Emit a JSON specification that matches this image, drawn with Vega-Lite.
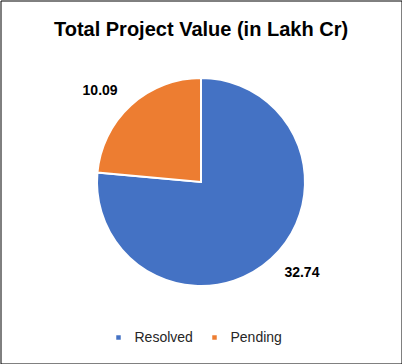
{
  "$schema": "https://vega.github.io/schema/vega-lite/v6.json",
  "width": 401,
  "height": 363,
  "padding": 0.5,
  "autosize": {"type": "none"},
  "background": "white",
  "view": {"stroke": "#000000", "strokeWidth": 1},
  "data": {"values": [
    {"status": "Resolved", "value": 32.74, "idx": 1},
    {"status": "Pending", "value": 10.09, "idx": 2}
  ]},
  "title": {
    "text": "Total Project Value (in Lakh Cr)",
    "font": "Liberation Sans",
    "fontSize": 20,
    "fontWeight": "bold",
    "color": "#000000",
    "anchor": "middle",
    "offset": -39
  },
  "encoding": {
    "theta": {"field": "value", "type": "quantitative", "stack": true},
    "order": {"field": "idx", "type": "quantitative"},
    "color": {
      "field": "status",
      "type": "nominal",
      "scale": {"domain": ["Resolved", "Pending"], "range": ["#4472C4", "#ED7D31"]},
      "legend": {
        "title": null,
        "orient": "none",
        "legendX": 111,
        "legendY": 330,
        "direction": "horizontal",
        "symbolType": "square",
        "symbolSize": 20,
        "labelFont": "Liberation Sans",
        "labelFontSize": 14,
        "labelColor": "#262626",
        "labelOffset": 9,
        "columnPadding": 14,
        "symbolStrokeWidth": 0
      }
    }
  },
  "layer": [
    {"mark": {"type": "arc", "outerRadius": 104, "stroke": "white", "strokeWidth": 2}},
    {
      "mark": {"type": "text", "radius": 136, "thetaOffset": -0.096, "font": "Liberation Sans", "fontSize": 14, "fontWeight": "bold", "color": "#000000"},
      "encoding": {"text": {"field": "value", "type": "quantitative", "format": ".2f"}, "color": {"value": "#000000"}}
    }
  ],
  "config": {"view": {"stroke": "#000000", "strokeWidth": 1}}
}
